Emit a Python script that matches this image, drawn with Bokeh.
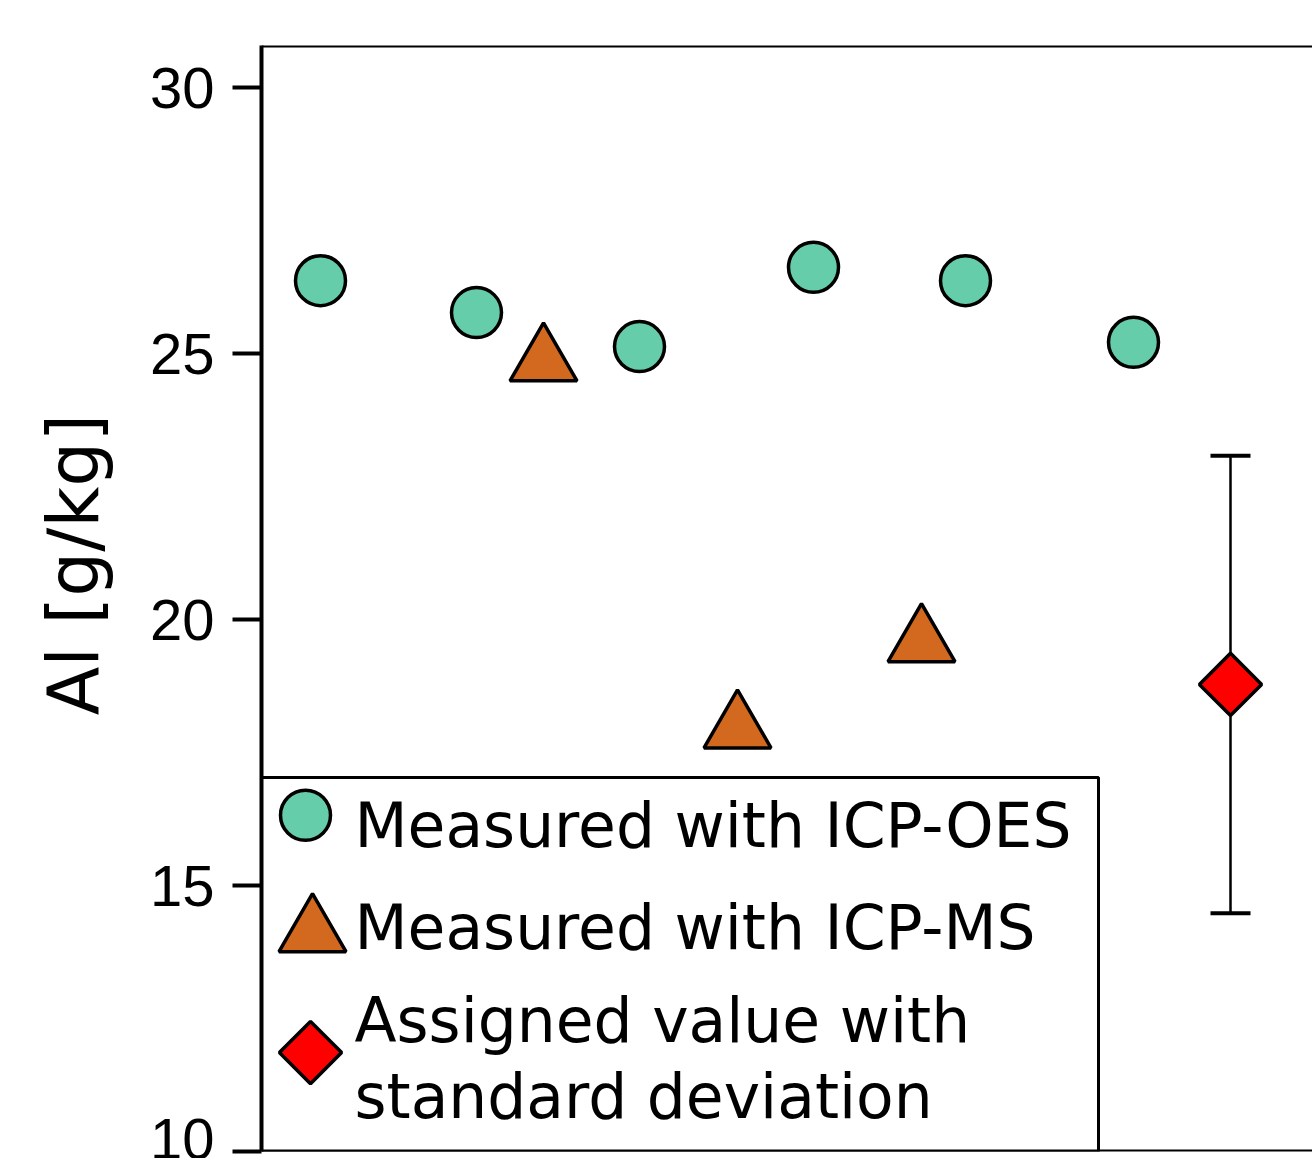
from bokeh.plotting import figure
from bokeh.models import (Range1d, LinearAxis, FixedTicker, Span, Whisker, TeeHead,
                          ColumnDataSource)
from bokeh.core.properties import value
from bokeh.embed import file_html
from bokeh.resources import INLINE

# ---------------- data ----------------
oes_x = [5.9, 21.5, 37.8, 55.2, 70.4, 87.2]
oes_y = [26.37, 25.77, 25.13, 26.62, 26.37, 25.21]

ms_x = [28.2, 47.6, 66.0]
ms_y = [24.85, 17.95, 19.57]

assigned_x = [96.9]
assigned_y = [18.78]
assigned_sd = [4.30]

y_ticks = [10, 15, 20, 25, 30]
y_label = "Al [g/kg]"

legend_labels = ["Measured with ICP-OES", "Measured with ICP-MS",
                 "Assigned value with", "standard deviation"]

# ---------------- figure ----------------
p = figure(width=1312, height=1158, output_backend="svg", toolbar_location=None,
           x_axis_location=None, y_axis_location=None,
           x_range=Range1d(0, 105.1), y_range=Range1d(10, 30.79),
           min_border_left=261, min_border_right=0, min_border_top=45,
           min_border_bottom=7)
p.outline_line_color = None
p.xgrid.visible = False
p.ygrid.visible = False
p.background_fill_color = "white"
p.border_fill_color = "white"

yaxis = LinearAxis(ticker=FixedTicker(ticks=y_ticks, minor_ticks=[]),
                   axis_label="\u00a0\u00a0\u00a0" + y_label)
yaxis.axis_line_width = 4
yaxis.axis_line_color = "black"
yaxis.major_tick_line_width = 4
yaxis.major_tick_out = 29
yaxis.major_tick_in = 0
yaxis.minor_tick_line_color = None
yaxis.major_label_standoff = 18
yaxis.major_label_text_font = "Liberation Sans"
yaxis.major_label_text_font_size = "58px"
yaxis.major_label_text_color = "black"
yaxis.axis_label_text_font = "DejaVu Sans"
yaxis.axis_label_text_font_size = "71px"
yaxis.axis_label_text_font_style = "normal"
yaxis.axis_label_text_color = "black"
yaxis.axis_label_standoff = 32
p.add_layout(yaxis, "left")

p.add_layout(Span(location=30.79, dimension="width", line_color="black", line_width=4))
p.add_layout(Span(location=10, dimension="width", line_color="black", line_width=4))

# ---------------- legend box ----------------
p.quad(left=[0], right=[83.7], bottom=[10], top=[17.03],
       fill_color="white", line_color="black", line_width=3)

# ---------------- data marks ----------------
src_a = ColumnDataSource(dict(x=assigned_x, y=assigned_y,
                              lo=[v - s for v, s in zip(assigned_y, assigned_sd)],
                              hi=[v + s for v, s in zip(assigned_y, assigned_sd)]))
wh = Whisker(base="x", lower="lo", upper="hi", source=src_a, dimension="height",
             line_color="black", line_width=2.5,
             lower_head=TeeHead(size=40, line_width=4, line_color="black"),
             upper_head=TeeHead(size=40, line_width=4, line_color="black"),
             level="underlay")
p.add_layout(wh)

p.scatter(oes_x, oes_y, marker="circle", size=50, fill_color="#66CDAA",
          line_color="black", line_width=3.5)
p.scatter(ms_x, ms_y, marker="triangle", size=67, fill_color="#D2691E",
          line_color="black", line_width=3.5)
p.scatter("x", "y", source=src_a, marker="square", angle=0.785398, size=44,
          fill_color="#FF0000", line_color="black", line_width=3.5)

# ---------------- legend contents ----------------
p.scatter([4.4], [16.32], marker="circle", size=50, fill_color="#66CDAA",
          line_color="black", line_width=3.5)
p.scatter([5.1], [14.12], marker="triangle", size=67, fill_color="#D2691E",
          line_color="black", line_width=3.5)
p.scatter([4.9], [11.86], marker="square", angle=0.785398, size=44,
          fill_color="#FF0000", line_color="black", line_width=3.5)
p.text(x=[9.3, 9.3, 9.3, 9.3], y=[16.12, 14.20, 12.45, 11.03], text=legend_labels,
       text_font=value("DejaVu Sans"), text_font_size="61.5px",
       text_baseline="alphabetic", text_align="left", text_color="black")

open("out.html", "w").write(file_html(p, INLINE))
